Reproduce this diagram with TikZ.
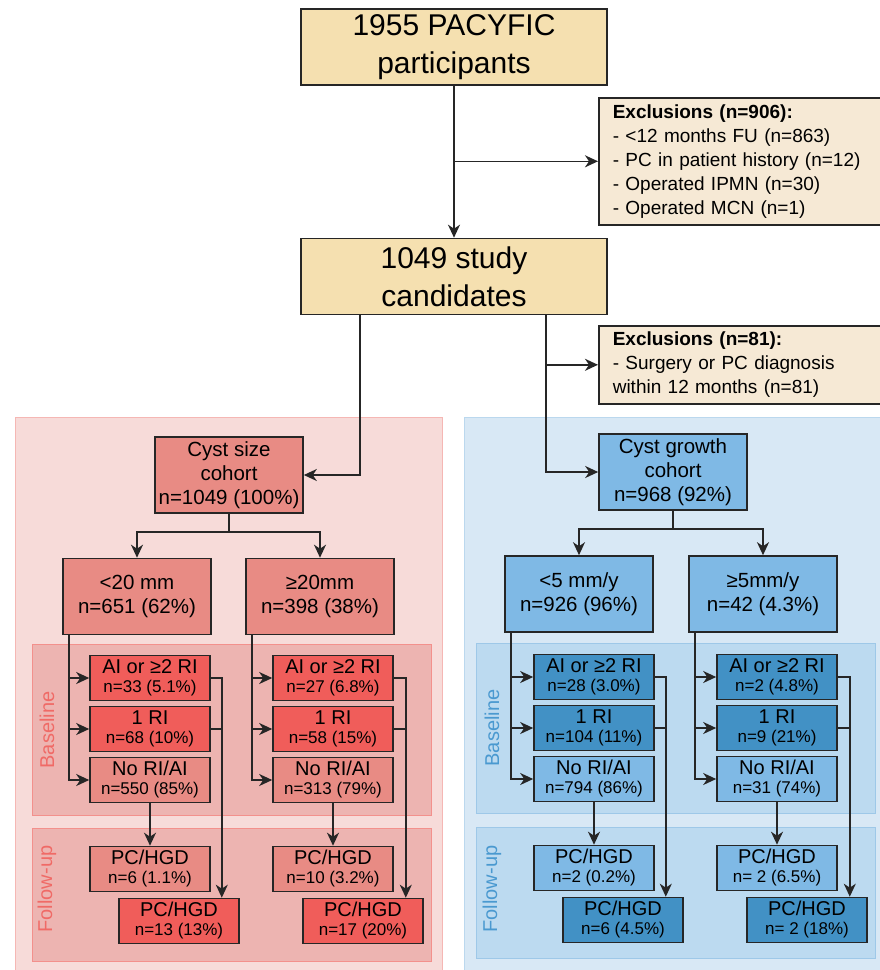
\documentclass[tikz,border=0pt]{standalone}
\usepackage{fontspec}
\setmainfont{Liberation Sans}
\usetikzlibrary{arrows.meta, calc}

\definecolor{startfill}{HTML}{F5E0B0}
\definecolor{exclfill}{HTML}{F6E9D5}
\definecolor{sizepanel}{HTML}{F7DBD9}
\definecolor{sizepanelline}{HTML}{F5B7B4}
\definecolor{sizeinner}{HTML}{EDB4B1}
\definecolor{sizeinnerline}{HTML}{F3908C}
\definecolor{sizemid}{HTML}{E88B84}
\definecolor{sizehigh}{HTML}{F05D5A}
\definecolor{sizelabel}{HTML}{F06A66}
\definecolor{growpanel}{HTML}{D8E8F5}
\definecolor{growpanelline}{HTML}{BBD8EE}
\definecolor{growinner}{HTML}{BCDAF0}
\definecolor{growinnerline}{HTML}{9EC8E8}
\definecolor{growmid}{HTML}{7FB9E5}
\definecolor{growhigh}{HTML}{4291C5}
\definecolor{growlabel}{HTML}{4A99D0}

\newcommand{\nline}[1]{{\fontsize{17}{19}\selectfont #1}}

\begin{document}
\begin{tikzpicture}[
      x=1pt, y=-1pt,
      >={Stealth[length=13pt,width=12pt,inset=4pt]},
      box/.style={draw=black!85,line width=1.6pt,align=center,inner sep=0pt},
      start node/.style={box,fill=startfill,minimum width=306,minimum height=76,font=\fontsize{30}{38}\selectfont},
      excl node/.style={box,fill=exclfill,anchor=north west,align=left,text width=256,inner xsep=14,font=\fontsize{19}{24}\selectfont},
      cohort node/.style={box,minimum width=148,minimum height=76,font=\fontsize{20.5}{24}\selectfont},
      risk node/.style={box,minimum width=120,minimum height=45,font=\fontsize{20}{19}\selectfont},
      side label/.style={rotate=90,font=\fontsize{20}{24}\selectfont},
      link/.style={line width=1.6pt,black!85},
      panel/.style={line width=1pt}
      ]
      \useasboundingbox (0,0) rectangle (880,970);
      % panels
      % cyst size
      \draw [panel,fill=sizepanel,draw=sizepanelline] (15,417) rectangle (442,976);
      \draw [panel,fill=sizeinner,draw=sizeinnerline] (32,644) rectangle (431,815);
      \draw [panel,fill=sizeinner,draw=sizeinnerline] (32,828) rectangle (431,961);
      % cyst growth
      \draw [panel,fill=growpanel,draw=growpanelline] (464,417) rectangle (884,976);
      \draw [panel,fill=growinner,draw=growinnerline] (476,643) rectangle (875,813);
      \draw [panel,fill=growinner,draw=growinnerline] (476,827) rectangle (875,958);
      \node [side label,text=sizelabel] (base1) at (47,730) {Baseline};
      \node [side label,text=sizelabel] (follow1) at (47,889) {Follow-up};
      \node [side label,text=growlabel] (base2) at (492,728) {Baseline};
      \node [side label,text=growlabel] (follow2) at (492,889) {Follow-up};
      % nodes
      % top
      \node [start node] (pacyfic) at (454,47) {1955 PACYFIC\\participants};
      \node [excl node,minimum height=127] (excl1) at (598,97)
        {\textbf{Exclusions (n=906):}\\- <12 months FU (n=863)\\- PC in patient history (n=12)\\- Operated IPMN (n=30)\\- Operated MCN (n=1)};
      \node [start node] (study) at (454,276.5) {1049 study\\candidates};
      \node [excl node,minimum height=78] (excl2) at (598,325)
        {\textbf{Exclusions (n=81):}\\- Surgery or PC diagnosis\\within 12 months (n=81)};
      % cohorts
      \node [cohort node,fill=sizemid] (size) at (229,475) {Cyst size\\cohort\\n=1049 (100\%)};
      \node [cohort node,fill=growmid] (growth) at (673,472) {Cyst growth\\cohort\\n=968 (92\%)};
      \node [cohort node,fill=sizemid] (sub1) at (137,596.5) {<20 mm\\n=651 (62\%)};
      \node [cohort node,fill=sizemid] (sub2) at (320,596.5) {≥20mm\\n=398 (38\%)};
      \node [cohort node,fill=growmid] (sub3) at (579,594) {<5 mm/y\\n=926 (96\%)};
      \node [cohort node,fill=growmid] (sub4) at (763,594) {≥5mm/y\\n=42 (4.3\%)};
      % 1
      \node [risk node,fill=sizehigh] (ai1) at (150,678) {AI or ≥2 RI\\\nline{n=33 (5.1\%)}};
      \node [risk node,fill=sizehigh] (ri1) at (150,729) {1 RI\\\nline{n=68 (10\%)}};
      \node [risk node,fill=sizemid] (no1) at (150,780) {No RI/AI\\\nline{n=550 (85\%)}};
      \node [risk node,fill=sizemid] (pl1) at (150,869) {PC/HGD\\\nline{n=6 (1.1\%)}};
      \node [risk node,fill=sizehigh] (ph1) at (179,921) {PC/HGD\\\nline{n=13 (13\%)}};
      % 2
      \node [risk node,fill=sizehigh] (ai2) at (333,678) {AI or ≥2 RI\\\nline{n=27 (6.8\%)}};
      \node [risk node,fill=sizehigh] (ri2) at (333,729) {1 RI\\\nline{n=58 (15\%)}};
      \node [risk node,fill=sizemid] (no2) at (333,780) {No RI/AI\\\nline{n=313 (79\%)}};
      \node [risk node,fill=sizemid] (pl2) at (333,869) {PC/HGD\\\nline{n=10 (3.2\%)}};
      \node [risk node,fill=sizehigh] (ph2) at (363,921) {PC/HGD\\\nline{n=17 (20\%)}};
      % 3
      \node [risk node,fill=growhigh] (ai3) at (594,677) {AI or ≥2 RI\\\nline{n=28 (3.0\%)}};
      \node [risk node,fill=growhigh] (ri3) at (594,728) {1 RI\\\nline{n=104 (11\%)}};
      \node [risk node,fill=growmid] (no3) at (594,779) {No RI/AI\\\nline{n=794 (86\%)}};
      \node [risk node,fill=growmid] (pl3) at (594,868) {PC/HGD\\\nline{n=2 (0.2\%)}};
      \node [risk node,fill=growhigh] (ph3) at (623,920) {PC/HGD\\\nline{n=6 (4.5\%)}};
      % 4
      \node [risk node,fill=growhigh] (ai4) at (777,677) {AI or ≥2 RI\\\nline{n=2 (4.8\%)}};
      \node [risk node,fill=growhigh] (ri4) at (777,728) {1 RI\\\nline{n=9 (21\%)}};
      \node [risk node,fill=growmid] (no4) at (777,779) {No RI/AI\\\nline{n=31 (74\%)}};
      \node [risk node,fill=growmid] (pl4) at (777,868) {PC/HGD\\\nline{n= 2 (6.5\%)}};
      \node [risk node,fill=growhigh] (ph4) at (807,920) {PC/HGD\\\nline{n= 2 (18\%)}};
      % arcs
      % top
      \draw [link,->] (pacyfic.south) -- (study.north);
      \draw [link,->] (pacyfic.south |- excl1.west) -- (excl1.west);
      \coordinate (split l) at ([xshift=-94]study.south);
      \coordinate (split r) at ([xshift=92]study.south);
      \draw [link,->] (split l) |- (size.east);
      \draw [link,->] (split r) |- (growth.west);
      \draw [link,->] (split r |- excl2.west) -- (excl2.west);
      % cohorts
      \draw [link,->] (size.south) -- ++(0,18) -| (sub1.north);
      \draw [link,->] (size.south) -- ++(0,18) -| (sub2.north);
      \draw [link,->] (growth.south) -- ++(0,18) -| (sub3.north);
      \draw [link,->] (growth.south) -- ++(0,18) -| (sub4.north);
      % baseline to follow-up
      \foreach \c in {1,...,4} {
          \coordinate (trunk\c) at ([xshift=7]sub\c.south west);
          \draw [link,->] (trunk\c) |- (ai\c.west);
          \draw [link,->] (trunk\c) |- (ri\c.west);
          \draw [link,->] (trunk\c) |- (no\c.west);
          \coordinate (drop\c) at ([xshift=-18]ph\c.north east);
          \draw [link,->] (ai\c.east) -| (drop\c);
          \draw [link] (ri\c.east) -- (ri\c.east -| drop\c);
          \draw [link,->] (no\c.south) -- (pl\c.north);
      }
    \end{tikzpicture}
\end{document}
